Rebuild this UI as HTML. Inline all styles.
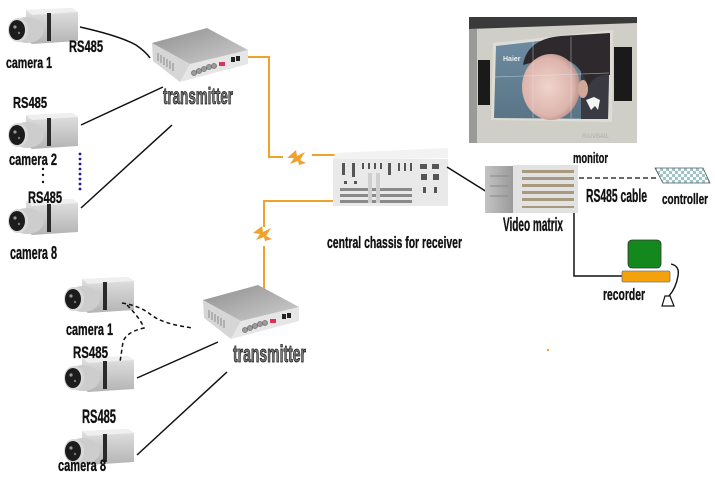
<!DOCTYPE html>
<html><head><meta charset="utf-8"><style>
html,body{margin:0;padding:0;background:#fff;}
svg{display:block;}
text{font-family:"Liberation Sans",Arial,sans-serif;font-weight:bold;fill:#111;stroke:#111;stroke-width:0.35;}
</style></head><body>
<svg width="715" height="479" viewBox="0 0 715 479" xmlns="http://www.w3.org/2000/svg">
<defs>
 <linearGradient id="camBody" x1="0" y1="0" x2="0" y2="1">
  <stop offset="0" stop-color="#e2e2e2"/><stop offset="1" stop-color="#b4b4b4"/>
 </linearGradient>
 <linearGradient id="txTop" x1="0" y1="0" x2="1" y2="1">
  <stop offset="0" stop-color="#8e8e8e"/><stop offset="1" stop-color="#cfcfcf"/>
 </linearGradient>
 <linearGradient id="vmSide" x1="0" y1="0" x2="1" y2="0">
  <stop offset="0" stop-color="#c4c4c4"/><stop offset="1" stop-color="#9a9a9a"/>
 </linearGradient>
 <radialGradient id="face" cx="0.45" cy="0.5" r="0.55">
  <stop offset="0" stop-color="#f0d4cc"/><stop offset="0.8" stop-color="#dcb4ac"/><stop offset="1" stop-color="#b89088"/>
 </radialGradient>
 <linearGradient id="scr" x1="0" y1="0" x2="0" y2="1">
  <stop offset="0" stop-color="#6e8ea4"/><stop offset="1" stop-color="#5a7486"/>
 </linearGradient>
 <pattern id="chk" width="6" height="6" patternUnits="userSpaceOnUse">
  <rect width="6" height="6" fill="#ffffff"/><rect width="3" height="3" fill="#9ec6c8"/><rect x="3" y="3" width="3" height="3" fill="#9ec6c8"/>
 </pattern>
 <g id="cam">
  <polygon points="20,2 66,0 72,4 72,33 26,36 20,32" fill="url(#camBody)"/>
  <polygon points="20,2 66,0 72,4 26,7" fill="#efefef"/>
  <rect x="41" y="5" width="4" height="28" fill="#2a2a2a"/>
  <ellipse cx="21" cy="22" rx="17" ry="13" fill="#cdcdcd"/>
  <ellipse cx="12" cy="22" rx="10" ry="12" fill="#d9d9d9"/>
  <ellipse cx="11" cy="22" rx="8" ry="10" fill="#1c1c1c"/>
  <circle cx="9" cy="19" r="1.6" fill="#999"/>
  <circle cx="13" cy="25" r="1.2" fill="#777"/>
 </g>
 <g id="tx">
  <polygon points="152,43 153,61 180,82 190,64" fill="#d6d6d6"/>
  <polygon points="190,64 248,50 248,64 180,82" fill="#e6e6e6"/>
  <polygon points="152,43 207,28 248,50 190,64" fill="url(#txTop)"/>
  <g stroke="#8a8a8a" stroke-width="1">
   <line x1="158" y1="53" x2="158" y2="61"/><line x1="161" y1="55" x2="161" y2="63"/>
   <line x1="164" y1="57" x2="164" y2="65"/><line x1="167" y1="59" x2="167" y2="67"/>
   <line x1="170" y1="61" x2="170" y2="69"/><line x1="173" y1="63" x2="173" y2="71"/>
  </g>
  <g fill="#9a9a9a" stroke="#666" stroke-width="0.6">
   <circle cx="194" cy="73" r="2.6"/><circle cx="199" cy="71" r="2.6"/><circle cx="204" cy="69" r="2.6"/>
   <circle cx="209" cy="67" r="2.6"/><circle cx="214" cy="66" r="2.6"/>
  </g>
  <rect x="219" y="62" width="6" height="4" fill="#e0305a"/>
  <rect x="231" y="57" width="4" height="5" fill="#222"/><rect x="236" y="56" width="4" height="5" fill="#222"/>
 </g>
</defs>
<rect width="715" height="479" fill="#fff"/>

<!-- monitor photo -->
<g transform="translate(469,17)">
 <rect width="168" height="126" fill="#cfcfc8"/>
 <polygon points="0,0 168,0 168,6 0,12" fill="#3a3a3a"/>
 <rect x="0" y="12" width="8" height="114" fill="#9a9a98"/>
 <rect x="9" y="43" width="12" height="45" fill="#1a1a1a"/>
 <rect x="145" y="30" width="18" height="54" fill="#1a1a1a"/>
 <polygon points="24,26 144,13 143,105 22,103" fill="#dedcd4"/>
 <polygon points="27,29 141,16 139,102 25,101" fill="url(#scr)"/>
 <polygon points="112,40 141,16 139,102 112,102" fill="#3a3a42"/>
 <path d="M54,48 Q58,22 92,19 L141,16 L141,58 Q126,56 119,70 Q113,50 100,44 Q80,40 54,48Z" fill="#2e292d"/>
 <ellipse cx="82" cy="70" rx="29" ry="33" fill="url(#face)"/>
 <ellipse cx="114" cy="72" rx="5" ry="9" fill="#d2a898"/>
 <path d="M117,83 l8,-3 l6,3 l-2,10 l-3,-4 l-4,4 z" fill="#f4f4f4"/>
 <g stroke="#dfe8ee" stroke-width="0.7" opacity="0.55">
  <line x1="64" y1="24" x2="64" y2="101"/><line x1="102" y1="20" x2="102" y2="101"/>
  <line x1="26" y1="60" x2="140" y2="56"/>
 </g>
 <text x="34" y="44" style="font-size:7px;fill:#f0f0f0;stroke:none">Haier</text>
 <text x="140" y="121" text-anchor="end" style="font-size:6px;fill:#b0b0a8;stroke:none;font-weight:normal">RAIVBAIL</text>
</g>

<!-- orange links -->
<g stroke="#f0a22a" stroke-width="2" fill="none">
 <polyline points="246,57 269,57 269,157 283,157"/>
 <line x1="312" y1="155" x2="352" y2="155"/>
 <polyline points="350,201 264,201 264,227"/>
 <line x1="264" y1="246" x2="264" y2="292"/>
</g>
<g fill="#f0a22a">
 <polygon points="287,158 296,150 297,156 305,152 300,160 306,163 299,165 298,161 290,164 294,158"/>
 <polygon points="253,233 262,226 263,232 271,228 266,236 272,239 265,241 264,237 256,240 260,234"/>
 <rect x="547" y="349" width="2" height="2"/>
</g>

<!-- top section lines -->
<g stroke="#111" stroke-width="1.5" fill="none">
 <path d="M80,27 Q120,36 136,45 Q146,52 150,58"/>
 <line x1="81" y1="125" x2="163" y2="87"/>
 <line x1="81" y1="208" x2="172" y2="125"/>
</g>
<g fill="#1a1a9a">
 <circle cx="80" cy="154" r="1.4"/><circle cx="80" cy="159" r="1.4"/><circle cx="80" cy="164" r="1.4"/>
 <circle cx="80" cy="169" r="1.4"/><circle cx="80" cy="174" r="1.4"/><circle cx="80" cy="179" r="1.4"/>
 <circle cx="80" cy="184" r="1.4"/><circle cx="80" cy="189" r="1.4"/>
</g>
<g fill="#111">
 <circle cx="43" cy="169" r="1.2"/><circle cx="43" cy="175" r="1.2"/><circle cx="43" cy="182" r="1.2"/><circle cx="43" cy="203" r="1.2"/>
</g>

<!-- cameras -->
<use href="#cam" x="6" y="8"/>
<use href="#cam" x="6" y="113"/>
<use href="#cam" x="6" y="199"/>
<use href="#cam" x="62" y="277"/>
<use href="#cam" x="62" y="356"/>
<use href="#cam" x="62" y="429"/>

<!-- transmitters -->
<use href="#tx"/>
<use href="#tx" transform="translate(51,257)"/>

<!-- chassis -->
<polygon points="335,153 448,148 448,158 333,160" fill="#f2f2f2"/>
<rect x="333" y="159" width="115" height="47" fill="#e9e9e9"/>
<g fill="#555">
 <rect x="342" y="163" width="3" height="12"/><rect x="352" y="163" width="3" height="14"/>
 <rect x="362" y="163" width="2" height="6"/><rect x="368" y="163" width="2" height="6"/>
 <rect x="374" y="163" width="2" height="6"/><rect x="380" y="163" width="2" height="6"/>
 <rect x="388" y="163" width="3" height="12"/><rect x="398" y="163" width="2" height="8"/>
 <rect x="404" y="163" width="2" height="8"/><rect x="410" y="163" width="2" height="8"/>
 <rect x="420" y="164" width="7" height="5"/><rect x="432" y="164" width="7" height="5"/>
 <rect x="421" y="174" width="6" height="6"/><rect x="433" y="174" width="6" height="6"/>
 <rect x="423" y="187" width="3" height="6"/><rect x="434" y="187" width="3" height="6"/>
 <rect x="344" y="181" width="3" height="3"/><rect x="354" y="181" width="3" height="3"/>
</g>
<g fill="#8a8a8a">
 <rect x="340" y="188" width="72" height="3"/><rect x="340" y="194" width="72" height="3"/>
 <rect x="340" y="200" width="72" height="3"/>
</g>
<g fill="#cfcfcf"><rect x="368" y="173" width="4" height="30"/><rect x="376" y="173" width="4" height="30"/></g>

<!-- chassis to matrix -->
<line x1="447" y1="167" x2="487" y2="192" stroke="#111" stroke-width="1.5"/>

<!-- video matrix -->
<rect x="485" y="166" width="28" height="47" fill="url(#vmSide)"/>
<rect x="513" y="165" width="65" height="48" fill="#e2e2e2"/>
<g fill="#a89a7e">
 <rect x="522" y="170" width="52" height="3"/><rect x="522" y="177" width="52" height="3"/>
 <rect x="522" y="184" width="52" height="3"/><rect x="522" y="191" width="52" height="3"/>
 <rect x="522" y="198" width="52" height="3"/><rect x="522" y="206" width="52" height="2"/>
</g>
<g stroke="#888" stroke-width="1"><line x1="490" y1="176" x2="508" y2="176"/><line x1="490" y1="186" x2="508" y2="186"/><line x1="490" y1="196" x2="508" y2="196"/></g>

<!-- dashed to controller -->
<line x1="579" y1="178" x2="656" y2="178" stroke="#111" stroke-width="1.2" stroke-dasharray="5,3"/>
<polygon points="655,168 703,168 710,183 663,183" fill="url(#chk)" stroke="#555" stroke-width="0.8"/>

<!-- recorder -->
<polyline points="574,213 574,276 622,276" stroke="#111" stroke-width="1.5" fill="none"/>
<rect x="628" y="240" width="33" height="28" rx="4" fill="#13881c" stroke="#333" stroke-width="0.8"/>
<rect x="622" y="271" width="48" height="11" rx="1.5" fill="#f4a20c" stroke="#777" stroke-width="0.8"/>
<path d="M671,264 Q680,266 678,276 Q676,288 669,296" stroke="#111" stroke-width="1.4" fill="none"/>
<polygon points="662,306 665,296 670,296 674,306" fill="#fff" stroke="#111" stroke-width="1.2"/>

<!-- bottom section lines -->
<g stroke="#111" stroke-width="1.5" fill="none">
 <path d="M122,303 Q140,306 150,314 Q162,324 193,328" stroke-dasharray="4,3"/>
 <path d="M127,305 Q140,318 144,328 Q126,332 123,342 L120,362" stroke-dasharray="4,3"/>
 <line x1="137" y1="378" x2="218" y2="342"/>
 <line x1="137" y1="455" x2="227" y2="372"/>
</g>

<!-- labels -->
<text x="6" y="68" textLength="46" lengthAdjust="spacingAndGlyphs" style="font-size:16px">camera 1</text>
<text x="69" y="52" textLength="34" lengthAdjust="spacingAndGlyphs" style="font-size:17px">RS485</text>
<text x="163" y="104" textLength="70" lengthAdjust="spacingAndGlyphs" style="font-size:23px;fill:#777;stroke:#111;stroke-width:0.8">transmitter</text>
<text x="13" y="108" textLength="34" lengthAdjust="spacingAndGlyphs" style="font-size:16px">RS485</text>
<text x="9" y="165" textLength="48" lengthAdjust="spacingAndGlyphs" style="font-size:17px">camera 2</text>
<text x="28" y="203" textLength="34" lengthAdjust="spacingAndGlyphs" style="font-size:17px">RS485</text>
<text x="10" y="259" textLength="47" lengthAdjust="spacingAndGlyphs" style="font-size:18px">camera 8</text>
<text x="327" y="248" textLength="135" lengthAdjust="spacingAndGlyphs" style="font-size:17px">central chassis for receiver</text>
<text x="573" y="163" textLength="35" lengthAdjust="spacingAndGlyphs" style="font-size:15px">monitor</text>
<text x="503" y="231" textLength="60" lengthAdjust="spacingAndGlyphs" style="font-size:19px">Video matrix</text>
<text x="586" y="202" textLength="61" lengthAdjust="spacingAndGlyphs" style="font-size:18px">RS485 cable</text>
<text x="662" y="204" textLength="46" lengthAdjust="spacingAndGlyphs" style="font-size:15px">controller</text>
<text x="603" y="300" textLength="42" lengthAdjust="spacingAndGlyphs" style="font-size:17px">recorder</text>
<text x="66" y="335" textLength="47" lengthAdjust="spacingAndGlyphs" style="font-size:17px">camera 1</text>
<text x="73" y="358" textLength="35" lengthAdjust="spacingAndGlyphs" style="font-size:17px">RS485</text>
<text x="233" y="362" textLength="73" lengthAdjust="spacingAndGlyphs" style="font-size:24px;fill:#777;stroke:#111;stroke-width:0.8">transmitter</text>
<text x="82" y="423" textLength="34" lengthAdjust="spacingAndGlyphs" style="font-size:19px">RS485</text>
<text x="58" y="471" textLength="48" lengthAdjust="spacingAndGlyphs" style="font-size:17px">camera 8</text>
</svg>
</body></html>
